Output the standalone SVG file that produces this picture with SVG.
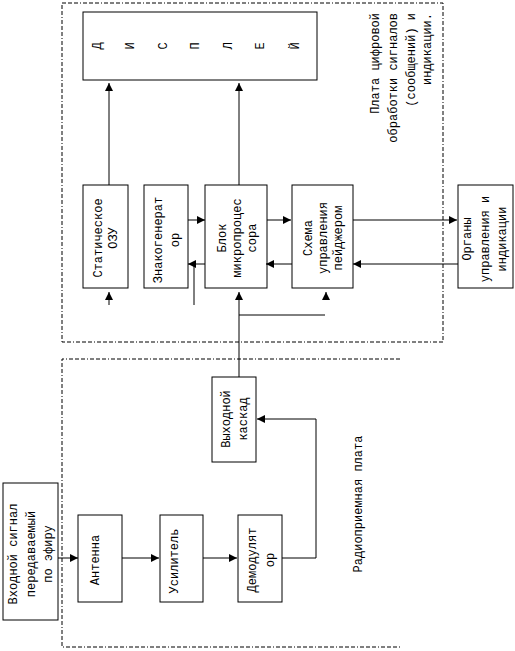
<svg xmlns="http://www.w3.org/2000/svg" width="515" height="651" viewBox="0 0 515 651">
<defs>
<marker id="ah" markerUnits="userSpaceOnUse" markerWidth="9" markerHeight="8" refX="8" refY="4" orient="auto">
<path d="M0,0 L8,4 L0,8 Z" fill="#000"/>
</marker>
<style>
rect.b{fill:#fff;stroke:#000;stroke-width:1}
.panel{fill:none;stroke:#000;stroke-width:1;stroke-dasharray:4 2 4 2 4 2 1 2}
text{font-family:"Liberation Mono","Courier New",monospace;font-size:12px;fill:#000;text-anchor:middle}
.c line,.c path{stroke:#000;stroke-width:1;fill:none}
</style>
</defs>
<rect width="515" height="651" fill="#fff"/>
<g id="panel-digital">
<rect class="panel" x="62" y="3" width="381" height="339"/>
<text transform="translate(379,13) rotate(-90)" style="text-anchor:end">Плата цифровой</text>
<text transform="translate(397,13) rotate(-90)" style="text-anchor:end">обработки сигналов</text>
<text transform="translate(415,13) rotate(-90)" style="text-anchor:end">(сообщений) и</text>
<text transform="translate(431,13) rotate(-90)" style="text-anchor:end">индикации.</text>
</g>
<g id="panel-radio">
<path class="panel" d="M400,359 H62 V647 H400"/>
<text transform="translate(362,504) rotate(-90)">Радиоприемная плата</text>
</g>
<g id="display">
<rect class="b" x="83" y="12" width="234" height="68"/>
<text transform="translate(101,46) rotate(-90)">Д</text>
<text transform="translate(134,46) rotate(-90)">И</text>
<text transform="translate(167,46) rotate(-90)">С</text>
<text transform="translate(199,46) rotate(-90)">П</text>
<text transform="translate(232,46) rotate(-90)">Л</text>
<text transform="translate(264,46) rotate(-90)">Е</text>
<text transform="translate(299,46) rotate(-90)">Й</text>
</g>
<g id="ozu">
<rect class="b" x="83" y="185" width="45" height="103"/>
<text transform="translate(102,238) rotate(-90)">Статическое</text>
<text transform="translate(117,238) rotate(-90)">ОЗУ</text>
</g>
<g id="znakogen">
<rect class="b" x="144" y="185" width="44" height="103"/>
<text transform="translate(162,240) rotate(-90)">Знакогенерат</text>
<text transform="translate(179,240) rotate(-90)">ор</text>
</g>
<g id="cpu">
<rect class="b" x="205" y="185" width="62" height="103"/>
<text transform="translate(226,238) rotate(-90)">Блок</text>
<text transform="translate(241,238) rotate(-90)">микропроцес</text>
<text transform="translate(256,238) rotate(-90)">сора</text>
</g>
<g id="pager-ctrl">
<rect class="b" x="292" y="185" width="61" height="103"/>
<text transform="translate(312,238) rotate(-90)">Схема</text>
<text transform="translate(327,238) rotate(-90)">управления</text>
<text transform="translate(342,238) rotate(-90)">пейджером</text>
</g>
<g id="controls">
<rect class="b" x="458" y="185" width="55" height="103"/>
<text transform="translate(471,239) rotate(-90)">Органы</text>
<text transform="translate(489,239) rotate(-90)">управления и</text>
<text transform="translate(506,239) rotate(-90)">индикации</text>
</g>
<g id="output-stage">
<rect class="b" x="212" y="377" width="44" height="85"/>
<text transform="translate(230,419) rotate(-90)">Выходной</text>
<text transform="translate(247,419) rotate(-90)">каскад</text>
</g>
<g id="input-signal">
<rect class="b" x="3" y="483" width="55" height="137"/>
<text transform="translate(17,554) rotate(-90)">Входной сигнал</text>
<text transform="translate(35,554) rotate(-90)">передаваемый</text>
<text transform="translate(52,554) rotate(-90)">по эфиру</text>
</g>
<g id="antenna">
<rect class="b" x="78" y="515" width="44" height="87"/>
<text transform="translate(99,560) rotate(-90)">Антенна</text>
</g>
<g id="amplifier">
<rect class="b" x="160" y="515" width="43" height="87"/>
<text transform="translate(178,561) rotate(-90)">Усилитель</text>
</g>
<g id="demodulator">
<rect class="b" x="238" y="515" width="44" height="87"/>
<text transform="translate(256,560) rotate(-90)">Демодулят</text>
<text transform="translate(274,560) rotate(-90)">ор</text>
</g>
<g id="connectors" class="c">
<line x1="109" y1="185" x2="109" y2="83" marker-end="url(#ah)"/>
<line x1="239" y1="185" x2="239" y2="83" marker-end="url(#ah)"/>
<line x1="188" y1="220" x2="205" y2="220" marker-end="url(#ah)"/>
<line x1="205" y1="264" x2="188" y2="264" marker-end="url(#ah)"/>
<line x1="194" y1="264" x2="194" y2="305"/>
<line x1="267" y1="220" x2="291" y2="220" marker-end="url(#ah)"/>
<line x1="292" y1="264" x2="266" y2="264" marker-end="url(#ah)"/>
<line x1="353" y1="220" x2="457" y2="220" marker-end="url(#ah)"/>
<line x1="458" y1="264" x2="353" y2="264" marker-end="url(#ah)"/>
<line x1="109" y1="305" x2="109" y2="292" marker-end="url(#ah)"/>
<line x1="239" y1="377" x2="239" y2="292" marker-end="url(#ah)"/>
<line x1="239" y1="315" x2="325" y2="315"/>
<line x1="326" y1="300" x2="326" y2="292" marker-end="url(#ah)"/>
<line x1="58" y1="558" x2="78" y2="558" marker-end="url(#ah)"/>
<line x1="122" y1="558" x2="159" y2="558" marker-end="url(#ah)"/>
<line x1="203" y1="558" x2="237" y2="558" marker-end="url(#ah)"/>
<path d="M282,558 H316 V419 H257" marker-end="url(#ah)"/>
</g>
</svg>
